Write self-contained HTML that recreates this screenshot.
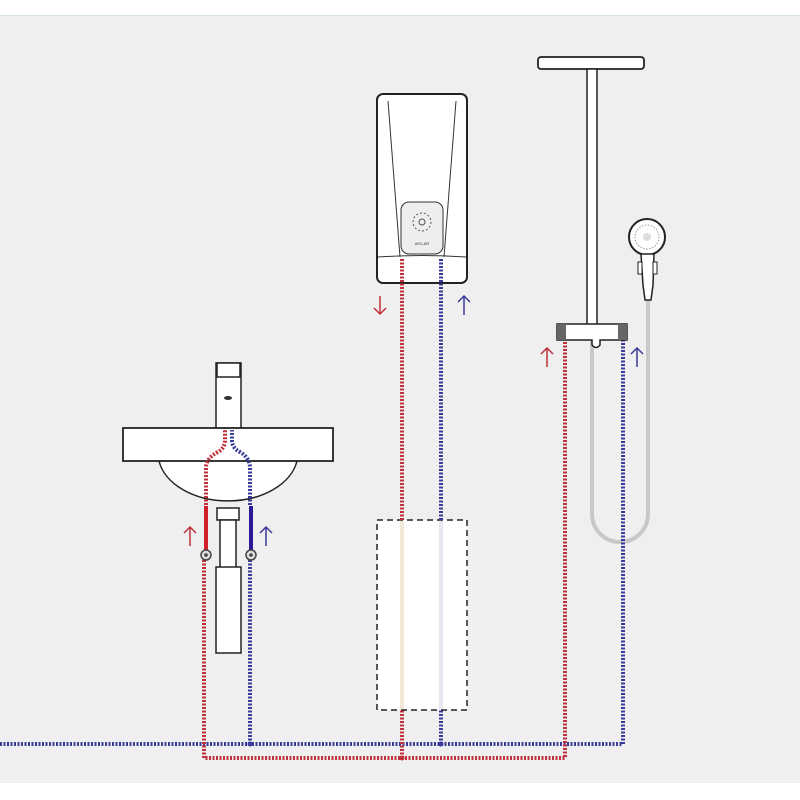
<!DOCTYPE html>
<html><head><meta charset="utf-8"><style>
html,body{margin:0;padding:0;background:#fff;width:800px;height:800px;overflow:hidden}
svg{display:block}
</style></head><body>
<svg width="800" height="800" viewBox="0 0 800 800" xmlns="http://www.w3.org/2000/svg">
<rect x="0" y="15" width="800" height="768" fill="#efefef"/>
<line x1="0" y1="15.5" x2="800" y2="15.5" stroke="#d4e4ea" stroke-width="1"/>

<!-- heater -->
<rect x="377" y="94" width="90" height="189" rx="6" fill="#fff" stroke="#222" stroke-width="2"/>
<path d="M388 101 L400 257 M456 101 L444 257" stroke="#333" stroke-width="1" fill="none"/>
<path d="M378 257 Q422 254 466 257" stroke="#333" stroke-width="1" fill="none"/>
<rect x="401" y="202" width="42" height="52" rx="8" fill="#eee" stroke="#333" stroke-width="1"/>
<circle cx="422" cy="222" r="9" fill="none" stroke="#555" stroke-width="1" stroke-dasharray="2 2"/>
<circle cx="422" cy="222" r="3" fill="none" stroke="#555" stroke-width="1"/>
<text x="422" y="245" font-family="Liberation Sans, sans-serif" font-size="4" text-anchor="middle" fill="#333">WCLAR</text>

<!-- dashed box -->
<rect x="377" y="520" width="90" height="190" fill="#fff" stroke="#222" stroke-width="1.5" stroke-dasharray="6 4"/>

<!-- sink -->
<rect x="216" y="363" width="25" height="66" fill="#fff" stroke="#222" stroke-width="1.5"/>
<rect x="217" y="363" width="23" height="14" fill="#fff" stroke="#222" stroke-width="1.5"/>
<ellipse cx="228" cy="398" rx="4" ry="2" fill="#333"/>
<path d="M159 461 A70 48 0 0 0 297 461" fill="#fff" stroke="#222" stroke-width="1.5"/>
<rect x="123" y="428" width="210" height="33" fill="#fff" stroke="#222" stroke-width="1.8"/>
<rect x="217" y="508" width="22" height="12" fill="#fff" stroke="#222" stroke-width="1.5"/>
<rect x="220" y="520" width="16" height="50" fill="#fff" stroke="#222" stroke-width="1.5"/>
<rect x="216" y="567" width="25" height="86" fill="#fff" stroke="#222" stroke-width="1.5"/>

<!-- shower hose -->
<path d="M592 340 L592 514 A28 28 0 0 0 648 514 L648 300" fill="none" stroke="#c8c8c8" stroke-width="4"/>

<!-- pipes -->
<g fill="none" stroke-width="4" stroke-dasharray="2 1.5">
<path d="M0 744 H623 V338" stroke="#3a3a9a"/>
<path d="M250 744 V560" stroke="#3a3a9a"/>
<path d="M441 744 V258" stroke="#3a3a9a"/>
<path d="M204 560 V758 H565 V338" stroke="#c0303a"/>
<path d="M402 758 V258" stroke="#c0303a"/>
<path d="M206 505 V468 Q206 458 218 452 Q225 448 225 440 V430" stroke="#c0303a"/>
<path d="M250 505 V468 Q250 458 240 452 Q232 448 232 440 V430" stroke="#3a3a9a"/>
</g>
<circle cx="402" cy="758" r="2.5" fill="#c0303a"/>
<circle cx="250" cy="744" r="2.5" fill="#3a3a9a"/>
<circle cx="441" cy="744" r="2.5" fill="#3a3a9a"/>
<line x1="402" y1="521" x2="402" y2="709" stroke="#f3e8d6" stroke-width="4"/>
<line x1="441" y1="521" x2="441" y2="709" stroke="#e8e8f4" stroke-width="4"/>

<line x1="206" y1="506" x2="206" y2="555" stroke="#d0202a" stroke-width="4"/>
<line x1="251" y1="506" x2="251" y2="555" stroke="#2a1a9a" stroke-width="4"/>
<circle cx="206" cy="555" r="5" fill="#ddd" stroke="#444" stroke-width="1.5"/><circle cx="206" cy="555" r="1.8" fill="#444"/>
<circle cx="251" cy="555" r="5" fill="#ddd" stroke="#444" stroke-width="1.5"/><circle cx="251" cy="555" r="1.8" fill="#444"/>

<!-- shower -->
<rect x="538" y="57" width="106" height="12" rx="3" fill="#fff" stroke="#222" stroke-width="1.8"/>
<rect x="587" y="69" width="10" height="258" fill="#fff" stroke="#222" stroke-width="1.5"/>
<path d="M557 324 H627 V340 H600 V345 Q596 350 592 345 V340 H557 Z" fill="#fff" stroke="#222" stroke-width="1.5"/>
<rect x="557" y="324" width="9" height="16" fill="#666"/>
<rect x="618" y="324" width="9" height="16" fill="#666"/>
<circle cx="647" cy="237" r="18" fill="#fff" stroke="#222" stroke-width="2"/>
<circle cx="647" cy="237" r="12" fill="none" stroke="#999" stroke-width="1" stroke-dasharray="1.5 1.5"/>
<circle cx="647" cy="237" r="4" fill="#ddd"/>
<path d="M641 254 L643 285 L645 300 H651 L653 285 L654 254 Z" fill="#fff" stroke="#222" stroke-width="1.5"/>
<rect x="638" y="262" width="4" height="12" fill="#fff" stroke="#222"/>
<rect x="653" y="262" width="4" height="12" fill="#fff" stroke="#222"/>

<!-- arrows -->
<g fill="none" stroke-width="1.5">
<path d="M380 296 V314 M374 308 L380 314 L386 308" stroke="#c0303a"/>
<path d="M464 315 V296 M458 302 L464 296 L470 302" stroke="#3a3a9a"/>
<path d="M547 367 V348 M541 354 L547 348 L553 354" stroke="#c0303a"/>
<path d="M637 367 V348 M631 354 L637 348 L643 354" stroke="#3a3a9a"/>
<path d="M190 546 V527 M184 533 L190 527 L196 533" stroke="#c0303a"/>
<path d="M266 546 V527 M260 533 L266 527 L272 533" stroke="#3a3a9a"/>
</g>
</svg>
</body></html>
